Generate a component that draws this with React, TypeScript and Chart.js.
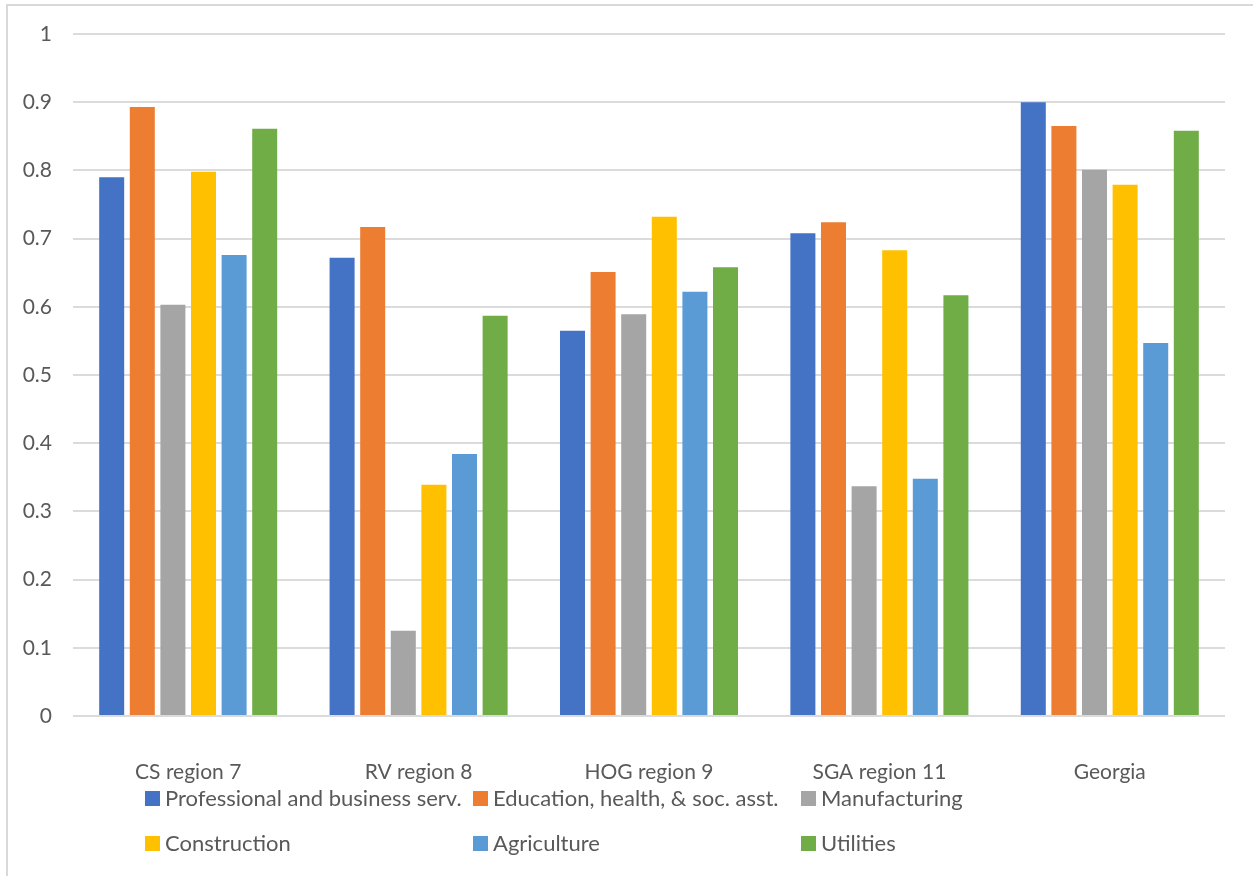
import React, { useEffect, useRef } from "react";
import { Chart, registerables } from "chart.js";

Chart.register(...registerables);

const categories = ["CS region 7", "RV region 8", "HOG region 9", "SGA region 11", "Georgia"];
const seriesNames = [
  "Professional and business serv.",
  "Education, health, & soc. asst.",
  "Manufacturing",
  "Construction",
  "Agriculture",
  "Utilities",
];
const professional = [0.79, 0.672, 0.565, 0.708, 0.9];
const education = [0.893, 0.717, 0.651, 0.724, 0.865];
const manufacturing = [0.603, 0.125, 0.589, 0.337, 0.801];
const construction = [0.798, 0.339, 0.732, 0.683, 0.779];
const agriculture = [0.676, 0.384, 0.622, 0.348, 0.547];
const utilities = [0.861, 0.587, 0.658, 0.617, 0.858];
const seriesValues = [professional, education, manufacturing, construction, agriculture, utilities];
const colors = ["#4472C4", "#ED7D31", "#A5A5A5", "#FFC000", "#5B9BD5", "#70AD47"];
const yTicks = [0, 0.1, 0.2, 0.3, 0.4, 0.5, 0.6, 0.7, 0.8, 0.9, 1];

const FONT = "Lato";
const TEXT = "#595959";

const legendPlugin = {
  id: "gridLegend",
  afterDraw(chart: any) {
    const ctx = chart.ctx;
    const colX = [145, 473, 801];
    const rowY = [798, 843];
    ctx.save();
    ctx.font = `22px ${FONT}`;
    ctx.textBaseline = "middle";
    ctx.textAlign = "left";
    chart.data.datasets.forEach((ds: any, i: number) => {
      const x = colX[i % 3];
      const y = rowY[Math.floor(i / 3)];
      ctx.fillStyle = ds.backgroundColor;
      ctx.fillRect(x, y - 7, 15, 15);
      ctx.fillStyle = TEXT;
      ctx.fillText(ds.label, x + 20, y + 1);
    });
    ctx.restore();
  },
};

export default function App() {
  const ref = useRef<HTMLCanvasElement>(null);
  useEffect(() => {
    document.body.style.margin = "0";
    const chart = new Chart(ref.current!, {
      type: "bar",
      data: {
        labels: categories,
        datasets: seriesNames.map((name, i) => ({
          label: name,
          data: seriesValues[i],
          backgroundColor: colors[i],
          categoryPercentage: 0.797,
          barPercentage: 0.817,
        })),
      },
      options: {
        animation: false,
        responsive: false,
        maintainAspectRatio: false,
        layout: { padding: { left: 0, top: 34, right: 28, bottom: 0 } },
        plugins: { legend: { display: false }, tooltip: { enabled: false } },
        scales: {
          x: {
            grid: { display: false, drawTicks: false },
            border: { display: false },
            ticks: { color: TEXT, font: { family: FONT, size: 21 }, padding: 44 },
            afterFit: (s: any) => {
              s.height = 160;
            },
          },
          y: {
            min: 0,
            max: 1,
            z: 1,
            afterBuildTicks: (s: any) => {
              s.ticks = yTicks.map((v) => ({ value: v }));
            },
            grid: { color: "rgba(190,190,190,0.55)", lineWidth: 2, drawTicks: false },
            border: { display: false },
            ticks: {
              color: TEXT,
              font: { family: FONT, size: 21 },
              padding: 21,
              callback: (v: any) => String(Math.round(Number(v) * 10) / 10),
            },
            afterFit: (s: any) => {
              s.width = 73;
            },
          },
        },
      },
      plugins: [legendPlugin],
    });
    return () => chart.destroy();
  }, []);
  return (
    <div style={{ position: "relative", width: 1253, height: 876, overflow: "hidden", background: "#fff" }}>
      <div
        style={{
          position: "absolute",
          left: 6,
          top: 4,
          width: 1300,
          height: 900,
          borderLeft: "2px solid #d9d9d9",
          borderTop: "2px solid #d9d9d9",
        }}
      />
      <canvas ref={ref} width={1253} height={876} style={{ position: "absolute", left: 0, top: 0 }} />
    </div>
  );
}
